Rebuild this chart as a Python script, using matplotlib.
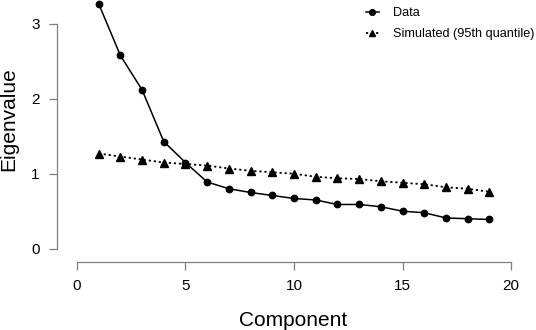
import matplotlib
matplotlib.use("Agg")
import matplotlib.pyplot as plt

plt.rcParams['font.family'] = ['Liberation Sans', 'DejaVu Sans']

components = list(range(1, 20))
data_eig = [3.27, 2.58, 2.12, 1.43, 1.15, 0.89, 0.80, 0.75, 0.71, 0.67,
            0.65, 0.59, 0.59, 0.56, 0.50, 0.48, 0.41, 0.40, 0.39]
sim_eig = [1.27, 1.23, 1.19, 1.15, 1.13, 1.11, 1.07, 1.04, 1.02, 1.00,
           0.96, 0.94, 0.93, 0.90, 0.88, 0.86, 0.82, 0.80, 0.76]
xticks = [0, 5, 10, 15, 20]
yticks = [0, 1, 2, 3]

W, H = 536, 330
fig = plt.figure(figsize=(W / 100, H / 100), dpi=100)
ax = fig.add_axes([57 / W, (H - 262) / H, 474 / W, 262 / H])

ax.plot(components, data_eig, color='black', lw=1.1, marker='o', ms=4.6, label='Data')
ax.plot(components, sim_eig, color='black', lw=1.3, ls=(0, (1.2, 1.6)), marker='^', ms=5.4,
        label='Simulated (95th quantile)')

ax.set_xlim(-0.92, 20.92)
ax.set_ylim(-0.178, 3.32)
ax.set_xticks(xticks)
ax.set_yticks(yticks)
ax.set_xticklabels([str(t) for t in xticks])
ax.set_yticklabels([str(t) for t in yticks])

for s in ['top', 'right']:
    ax.spines[s].set_visible(False)
ax.spines['bottom'].set_bounds(0, 20)
ax.spines['left'].set_bounds(0, 3)
for s in ['bottom', 'left']:
    ax.spines[s].set_color('#7f7f7f')
    ax.spines[s].set_linewidth(0.9)
ax.tick_params(axis='both', direction='out', length=5.5, width=0.9, color='#7f7f7f',
               labelsize=11, labelcolor='black', pad=7)
ax.patch.set_visible(False)

fig.text(293 / W, 1 - 320 / H, 'Component', ha='center', va='center', fontsize=15)
fig.text(9 / W, 1 - 119 / H, 'Eigenvalue', ha='center', va='center', rotation=90, fontsize=15)

ax.legend(loc='upper left', bbox_to_anchor=(366 / W, 1 - 7 / H),
          bbox_transform=fig.transFigure, frameon=False, fontsize=9.1,
          handlelength=1.0, handletextpad=1.1, labelspacing=0.75, borderpad=0,
          borderaxespad=0, markerscale=0.9)

fig.savefig('out.png', dpi=100)
